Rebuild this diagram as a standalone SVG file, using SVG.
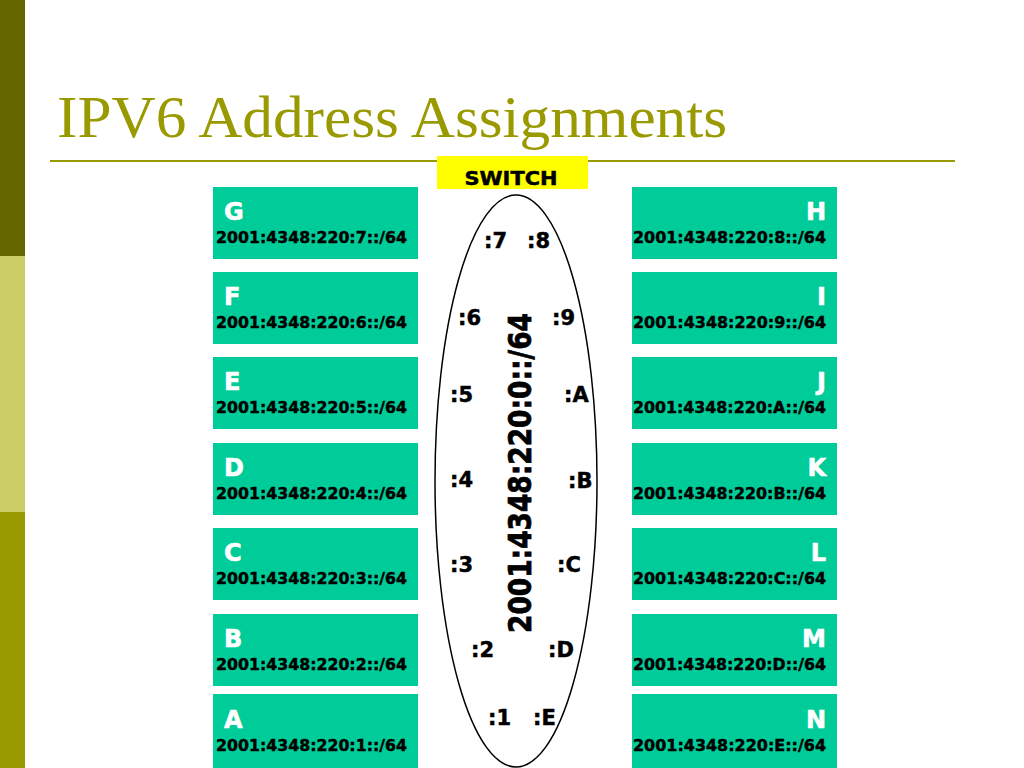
<svg xmlns="http://www.w3.org/2000/svg" width="1024" height="768" viewBox="0 0 1024 768">
<style>
.box{fill:#00CC99}
.ltr{font-family:"DejaVu Sans",Verdana,sans-serif;font-weight:bold;font-size:24px;fill:#FFFFFF;stroke:#FFFFFF;stroke-width:0.6}
.addr{font-family:"DejaVu Sans",Verdana,sans-serif;font-weight:bold;font-size:15.5px;fill:#000000;stroke:#000000;stroke-width:0.45}
.port{font-family:"DejaVu Sans",Verdana,sans-serif;font-weight:bold;font-size:21px;fill:#000000;stroke:#000000;stroke-width:0.5}
.r{text-anchor:end}
</style>
<rect x="0" y="0" width="1024" height="768" fill="#FFFFFF"/>
<g id="sidebar">
<rect x="0" y="0" width="25" height="256" fill="#666600"/>
<rect x="0" y="256" width="25" height="256" fill="#CCCC66"/>
<rect x="0" y="512" width="25" height="256" fill="#999900"/>
</g>
<g id="title">
<text x="57" y="137" font-family="'Liberation Serif','Times New Roman',serif" font-size="60" fill="#999900" textLength="670" lengthAdjust="spacingAndGlyphs">IPV6 Address Assignments</text>
<rect x="50" y="160" width="905" height="2" fill="#999900"/>
</g>
<g id="switch">
<rect x="437" y="156" width="151" height="33" fill="#FFFF00"/>
<text x="511" y="185" text-anchor="middle" font-family="'DejaVu Sans',Verdana,sans-serif" font-weight="bold" font-size="20" stroke="#000000" stroke-width="0.5" textLength="93" lengthAdjust="spacingAndGlyphs">SWITCH</text>
<ellipse cx="516" cy="481" rx="81" ry="286" fill="none" stroke="#000000" stroke-width="1.5"/>
<text transform="translate(531,473) rotate(-90)" text-anchor="middle" font-family="'DejaVu Sans',Verdana,sans-serif" font-weight="bold" font-size="32" stroke="#000000" stroke-width="0.8" textLength="320" lengthAdjust="spacingAndGlyphs">2001:4348:220:0::/64</text>
<text class="port" x="484" y="248">:7</text>
<text class="port" x="527" y="248">:8</text>
<text class="port" x="458" y="325">:6</text>
<text class="port" x="552" y="325">:9</text>
<text class="port" x="450" y="402">:5</text>
<text class="port" x="564" y="402">:A</text>
<text class="port" x="450" y="487">:4</text>
<text class="port" x="568" y="488">:B</text>
<text class="port" x="450" y="572">:3</text>
<text class="port" x="557" y="572">:C</text>
<text class="port" x="471" y="657">:2</text>
<text class="port" x="548" y="657">:D</text>
<text class="port" x="488" y="725">:1</text>
<text class="port" x="533" y="725">:E</text>
</g>
<g id="node-G"><rect class="box" x="213" y="187" width="205" height="72"/><text class="ltr" x="224" y="220">G</text><text class="addr" x="216" y="243" textLength="191" lengthAdjust="spacingAndGlyphs">2001:4348:220:7::/64</text></g>
<g id="node-F"><rect class="box" x="213" y="272" width="205" height="72"/><text class="ltr" x="224" y="305">F</text><text class="addr" x="216" y="328" textLength="191" lengthAdjust="spacingAndGlyphs">2001:4348:220:6::/64</text></g>
<g id="node-E"><rect class="box" x="213" y="357" width="205" height="72"/><text class="ltr" x="224" y="390">E</text><text class="addr" x="216" y="413" textLength="191" lengthAdjust="spacingAndGlyphs">2001:4348:220:5::/64</text></g>
<g id="node-D"><rect class="box" x="213" y="443" width="205" height="72"/><text class="ltr" x="224" y="476">D</text><text class="addr" x="216" y="499" textLength="191" lengthAdjust="spacingAndGlyphs">2001:4348:220:4::/64</text></g>
<g id="node-C"><rect class="box" x="213" y="528" width="205" height="72"/><text class="ltr" x="224" y="561">C</text><text class="addr" x="216" y="584" textLength="191" lengthAdjust="spacingAndGlyphs">2001:4348:220:3::/64</text></g>
<g id="node-B"><rect class="box" x="213" y="614" width="205" height="72"/><text class="ltr" x="224" y="647">B</text><text class="addr" x="216" y="670" textLength="191" lengthAdjust="spacingAndGlyphs">2001:4348:220:2::/64</text></g>
<g id="node-A"><rect class="box" x="213" y="694" width="205" height="74"/><text class="ltr" x="224" y="728">A</text><text class="addr" x="216" y="751" textLength="191" lengthAdjust="spacingAndGlyphs">2001:4348:220:1::/64</text></g>
<g id="node-H"><rect class="box" x="632" y="187" width="205" height="72"/><text class="ltr r" x="826" y="220">H</text><text class="addr" x="633" y="243" textLength="193" lengthAdjust="spacingAndGlyphs">2001:4348:220:8::/64</text></g>
<g id="node-I"><rect class="box" x="632" y="272" width="205" height="72"/><text class="ltr r" x="826" y="305">I</text><text class="addr" x="633" y="328" textLength="193" lengthAdjust="spacingAndGlyphs">2001:4348:220:9::/64</text></g>
<g id="node-J"><rect class="box" x="632" y="357" width="205" height="72"/><text class="ltr r" x="826" y="390">J</text><text class="addr" x="633" y="413" textLength="193" lengthAdjust="spacingAndGlyphs">2001:4348:220:A::/64</text></g>
<g id="node-K"><rect class="box" x="632" y="443" width="205" height="72"/><text class="ltr r" x="826" y="476">K</text><text class="addr" x="633" y="499" textLength="193" lengthAdjust="spacingAndGlyphs">2001:4348:220:B::/64</text></g>
<g id="node-L"><rect class="box" x="632" y="528" width="205" height="72"/><text class="ltr r" x="826" y="561">L</text><text class="addr" x="633" y="584" textLength="193" lengthAdjust="spacingAndGlyphs">2001:4348:220:C::/64</text></g>
<g id="node-M"><rect class="box" x="632" y="614" width="205" height="72"/><text class="ltr r" x="826" y="647">M</text><text class="addr" x="633" y="670" textLength="193" lengthAdjust="spacingAndGlyphs">2001:4348:220:D::/64</text></g>
<g id="node-N"><rect class="box" x="632" y="694" width="205" height="74"/><text class="ltr r" x="826" y="728">N</text><text class="addr" x="633" y="751" textLength="193" lengthAdjust="spacingAndGlyphs">2001:4348:220:E::/64</text></g>
<g id="connectors"></g>
</svg>
